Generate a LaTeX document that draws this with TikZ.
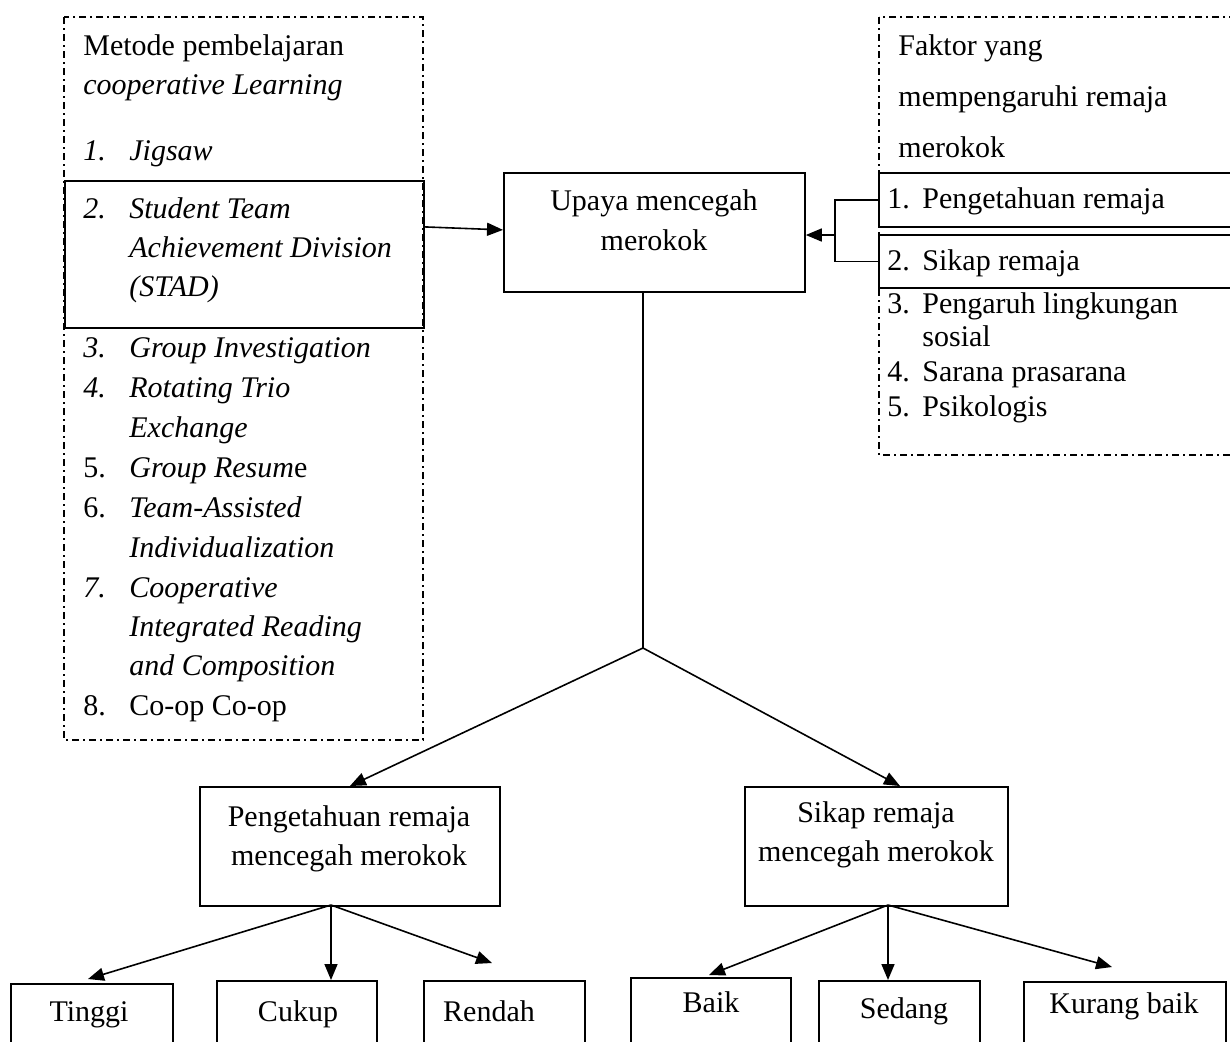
\documentclass[tikz,border=0pt]{standalone}
\usepackage{fontspec}
\setmainfont{Liberation Serif}
\usetikzlibrary{arrows.meta}
\begin{document}
\begin{tikzpicture}[x=0.5pt,y=-0.5pt,
  font=\fontsize{15}{18}\selectfont,
  box/.style={draw,line width=0.9pt,anchor=north west,inner sep=0pt},
  dbox/.style={draw,line width=0.65pt,dash pattern=on 3.5pt off 2pt on 1pt off 2pt},
  ln/.style={line width=0.8pt},
  arr/.style={line width=0.8pt,-{Triangle[length=8pt,width=6.5pt]}},
  txt/.style={inner sep=0pt,anchor=west,text height=11pt,text depth=3pt},
  ctxt/.style={inner sep=0pt,anchor=center,text height=11pt,text depth=3pt}]
\useasboundingbox (0,0) rectangle (1230,1041);
% dashed group boxes
\draw[dbox] (64,17) rectangle (423,740);
\draw[dbox] (879,17) rectangle (1240,455);
% solid boxes
\node[box,minimum width=179.5pt,minimum height=73.5pt] (stad) at (64,180) {};
\node[box,minimum width=150.5pt,minimum height=59.5pt] (upaya) at (503,172) {};
\node[box,minimum width=181pt,minimum height=27pt] (f1) at (878,172) {};
\node[box,minimum width=181pt,minimum height=26.5pt] (f2) at (878,234) {};
\node[box,minimum width=150pt,minimum height=59.5pt] (peng) at (199,786) {};
\node[box,minimum width=131.5pt,minimum height=59.5pt] (sikap) at (744,786) {};
\node[box,minimum width=81pt,minimum height=40pt] (tinggi) at (10,983) {};
\node[box,minimum width=80pt,minimum height=40pt] (cukup) at (216,980) {};
\node[box,minimum width=80.5pt,minimum height=40pt] (rendah) at (423,980) {};
\node[box,minimum width=80pt,minimum height=40pt] (baik) at (630,977) {};
\node[box,minimum width=80.5pt,minimum height=40pt] (sedang) at (818,980) {};
\node[box,minimum width=101pt,minimum height=40pt] (kurang) at (1023,981) {};
% left list
\node[txt] (l0a) at (83,47) {Metode pembelajaran};
\node[txt] (l0b) at (83,86) {\itshape cooperative Learning};
\node[txt] (n1) at (83,152) {\itshape 1.};
\node[txt] (t1) at (129,152) {\itshape Jigsaw};
\node[txt] (n2) at (83,210) {\itshape 2.};
\node[txt] (t2a) at (129,210) {\itshape Student Team};
\node[txt] (t2b) at (129,249) {\itshape Achievement Division};
\node[txt] (t2c) at (129,288) {\itshape (STAD)};
\node[txt] (n3) at (83,349) {\itshape 3.};
\node[txt] (t3) at (129,349) {\itshape Group Investigation};
\node[txt] (n4) at (83,389) {\itshape 4.};
\node[txt] (t4a) at (129,389) {\itshape Rotating Trio};
\node[txt] (t4b) at (129,429) {\itshape Exchange};
\node[txt] (n5) at (83,469) {5.};
\node[txt] (t5) at (129,469) {\textit{Group Resum}e};
\node[txt] (n6) at (83,509) {6.};
\node[txt] (t6a) at (129,509) {\itshape Team-Assisted};
\node[txt] (t6b) at (129,549) {\itshape Individualization};
\node[txt] (n7) at (83,589) {\itshape 7.};
\node[txt] (t7a) at (129,589) {\itshape Cooperative};
\node[txt] (t7b) at (129,628) {\itshape Integrated Reading};
\node[txt] (t7c) at (129,667) {\itshape and Composition};
\node[txt] (n8) at (83,707) {8.};
\node[txt] (t8) at (129,707) {Co-op Co-op};
% right list
\node[txt] (r0a) at (898,47) {Faktor yang};
\node[txt] (r0b) at (898,98) {mempengaruhi remaja};
\node[txt] (r0c) at (898,149) {merokok};
\node[txt] (m1) at (887,200) {1.};
\node[txt] (s1) at (922,200) {Pengetahuan remaja};
\node[txt] (m2) at (887,262) {2.};
\node[txt] (s2) at (922,262) {Sikap remaja};
\node[txt] (m3) at (887,305) {3.};
\node[txt] (s3a) at (922,305) {Pengaruh lingkungan};
\node[txt] (s3b) at (922,338) {sosial};
\node[txt] (m4) at (887,373) {4.};
\node[txt] (s4) at (922,373) {Sarana prasarana};
\node[txt] (m5) at (887,408) {5.};
\node[txt] (s5) at (922,408) {Psikologis};
% box texts
\node[ctxt] (u1) at (654,202) {Upaya mencegah};
\node[ctxt] (u2) at (654,242) {merokok};
\node[ctxt] (p1) at (349,818) {Pengetahuan remaja};
\node[ctxt] (p2) at (349,857) {mencegah merokok};
\node[ctxt] (k1) at (876,814) {Sikap remaja};
\node[ctxt] (k2) at (876,853) {mencegah merokok};
\node[ctxt] (tt) at (89,1013) {Tinggi};
\node[ctxt] (tc) at (298,1013) {Cukup};
\node[ctxt] (tr) at (489,1013) {Rendah};
\node[ctxt] (tb) at (711,1004) {Baik};
\node[ctxt] (ts) at (904,1010) {Sedang};
\node[ctxt] (tk) at (1124,1005) {Kurang baik};
% connectors
\draw[arr] ([yshift=13.75pt]stad.east) -- ([yshift=1.25pt]upaya.west);
\coordinate (brk) at (835,235);
\draw[ln] (f1.west) -| (brk) |- (f2.west);
\draw[arr] (brk) -- (brk -| upaya.east);
\coordinate (apex) at (643,648);
\draw[ln] (upaya.south -| apex) -- (apex);
\coordinate (sk) at (900,786);
\draw[arr] (apex) -- (peng.north);
\draw[arr] (apex) -- (sk);
\coordinate (pb) at (331,905);
\coordinate (sb) at (888,905);
\coordinate (tiT) at (88,979);
\coordinate (tiR) at (492,963);
\coordinate (tiB) at (709,975);
\coordinate (tiK) at (1112,967);
\draw[ln] (peng.south -| pb) -- (pb);
\draw[arr] (pb) -- (tiT);
\draw[arr] (pb) -- (cukup.north -| pb);
\draw[arr] (pb) -- (tiR);
\draw[arr] (sb) -- (tiB);
\draw[arr] (sb) -- (sedang.north -| sb);
\draw[arr] (sb) -- (tiK);
\end{tikzpicture}
\end{document}
